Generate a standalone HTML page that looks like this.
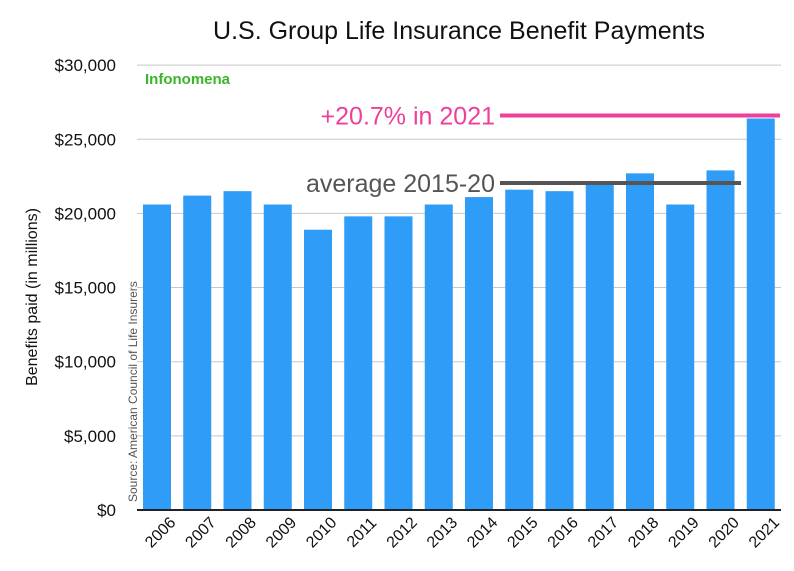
<!DOCTYPE html>
<html><head><meta charset="utf-8"><style>
body{margin:0;background:#fff;}
svg{display:block;font-family:"Liberation Sans",Helvetica,Arial,sans-serif;}
</style></head><body>
<svg id="chart" width="794" height="571">
<text x="459" y="39" font-size="25" text-anchor="middle" fill="#111">U.S. Group Life Insurance Benefit Payments</text>
<text x="145" y="84" font-size="15" font-weight="bold" fill="#3bb52a">Infonomena</text>
<text transform="translate(37,297) rotate(-90)" font-size="16" text-anchor="middle" fill="#111">Benefits paid (in millions)</text>
<text transform="translate(137,502) rotate(-90)" font-size="12" fill="#555">Source: American Council of Life Insurers</text>
<g id="grid"></g><g id="bars"></g><g id="ann"></g><g id="xl"></g>
</svg>
<script>
const years=["2006","2007","2008","2009","2010","2011","2012","2013","2014","2015","2016","2017","2018","2019","2020","2021"];
const benefits=[20.6,21.2,21.5,20.6,18.9,19.8,19.8,20.6,21.1,21.6,21.5,22.0,22.7,20.6,22.9,26.4];
const yTicks=[0,5,10,15,20,25,30];
const yTickLabels=["$0","$5,000","$10,000","$15,000","$20,000","$25,000","$30,000"];
const avgValue=[22.05];
const peakValue=[26.6];
const NS="http://www.w3.org/2000/svg";
const L=137,R=781,Y0=510,PK=14.83,BW=(R-L)/years.length;
const y=v=>Y0-v*PK, x=i=>L+i*BW;
function mk(t,a,p){const e=document.createElementNS(NS,t);for(const k in a)e.setAttribute(k,a[k]);p.appendChild(e);return e;}
const g=document.getElementById('grid');
yTicks.forEach((v,i)=>{
 if(v>0){const l=mk('line',{x1:L,x2:R,y1:y(v),y2:y(v),stroke:'#c8c8c8','stroke-width':1},g);
 
 }
 const t=mk('text',{x:116,y:y(v)+6,'font-size':17,'text-anchor':'end',fill:'#111'},g);t.textContent=yTickLabels[i];
 
 
});
const b=document.getElementById('bars');
benefits.forEach((v,i)=>{
 const r=mk('rect',{x:x(i)+6,y:y(v),width:28,height:Y0-y(v),fill:'#2f9cf8'},b);
 
 
 const t=mk('text',{transform:`translate(${x(i)+27},${536}) rotate(-45)`,'font-size':16,'text-anchor':'middle',fill:'#111'},document.getElementById('xl'));
 t.textContent=years[i];
 
 
});
const ax=mk('line',{x1:L,x2:R,y1:Y0,y2:Y0,stroke:'#222','stroke-width':2},b);


const a=document.getElementById('ann');
const pl=mk('line',{x1:500,x2:780,y1:y(peakValue[0]),y2:y(peakValue[0]),stroke:'#ee3f9a','stroke-width':4},a);


const pt=mk('text',{x:495,y:y(peakValue[0])+9,'font-size':25,'text-anchor':'end',fill:'#ee3f9a'},a);pt.textContent='+20.7% in 2021';


const al=mk('line',{x1:500,x2:741,y1:y(avgValue[0]),y2:y(avgValue[0]),stroke:'#555','stroke-width':4},a);


const at=mk('text',{x:495,y:y(avgValue[0])+9,'font-size':25,'text-anchor':'end',fill:'#555'},a);at.textContent='average 2015-20';


</script>
</body></html>
